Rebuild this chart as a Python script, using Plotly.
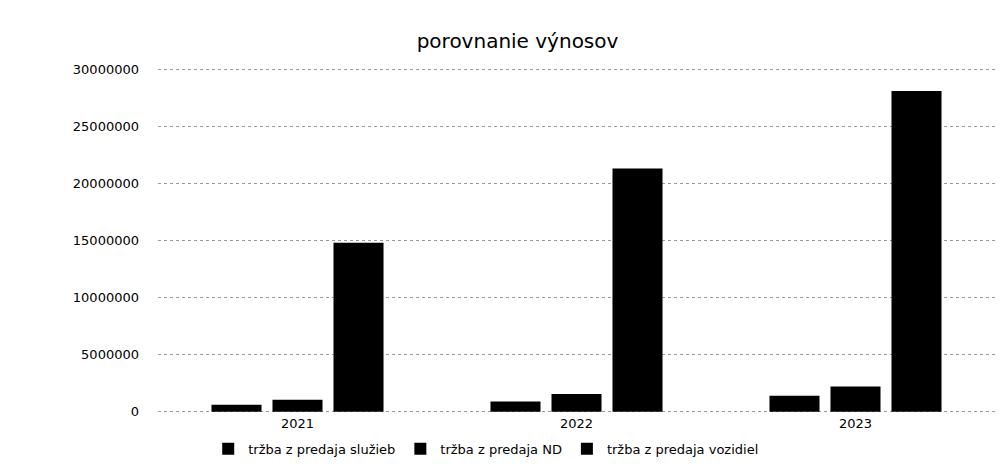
import plotly.graph_objects as go

years = ["2021", "2022", "2023"]
series_names = ["tržba z predaja služieb", "tržba z predaja ND", "tržba z predaja vozidiel"]
sluzby = [600000, 900000, 1400000]
nd = [1050000, 1550000, 2200000]
vozidla = [14800000, 21300000, 28100000]
tick_vals = [0, 5000000, 10000000, 15000000, 20000000, 25000000, 30000000]
tick_text = ["0", "5000000", "10000000", "15000000", "20000000", "25000000", "30000000"]

fig = go.Figure()
for name, vals in zip(series_names, [sluzby, nd, vozidla]):
    fig.add_trace(go.Bar(x=years, y=vals, name=name, marker=dict(color="#000000", line=dict(width=0))))

fig.update_layout(
    width=1005, height=468,
    paper_bgcolor="white", plot_bgcolor="white",
    font=dict(family="DejaVu Sans", color="#000000", size=12),
    title=dict(text="porovnanie výnosov", x=0.507, xanchor="center", y=0.93, yanchor="middle",
               font=dict(size=20, family="DejaVu Sans")),
    margin=dict(l=150, r=18, t=59, b=62),
    barmode="group", bargap=0.344, bargroupgap=0.18,
    showlegend=True,
    legend=dict(orientation="h", x=0.06, xanchor="left", y=-0.1, yanchor="middle",
                font=dict(size=13), itemwidth=30),
)
fig.update_xaxes(showgrid=False, showline=False, ticks="", tickfont=dict(size=13))
fig.update_yaxes(range=[-200000, 30200000], tickvals=tick_vals, ticktext=tick_text,
                 showgrid=True, gridcolor="#9a9a9a", griddash="dot", gridwidth=1,
                 zeroline=False, showline=False, ticklabelstandoff=18, tickfont=dict(size=13))

fig.write_html("out.html")
